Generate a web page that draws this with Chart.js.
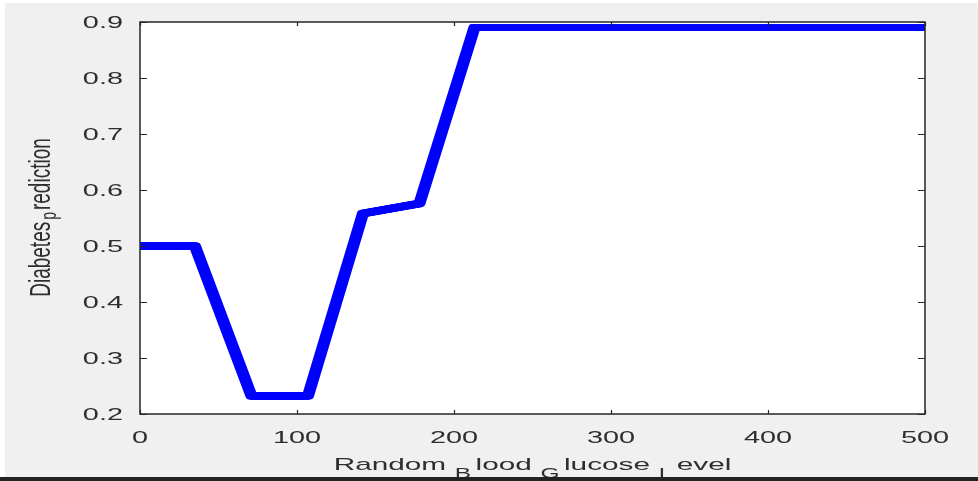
<!DOCTYPE html>
<html>
<head>
<meta charset="utf-8">
<script src="https://cdn.jsdelivr.net/npm/chart.js@4.4.1/dist/chart.umd.min.js"></script>
<style>
  html, body { margin: 0; padding: 0; background: #ffffff; }
  #wrap { width: 978px; height: 481px; }
</style>
</head>
<body>
<div id="wrap"><canvas id="c" width="978" height="481"></canvas></div>
<script>
// Blood glucose level (x) against diabetes prediction (y)
const glucose = [0, 35, 71, 107, 142, 178, 213, 500];
const prediction = [0.5, 0.5, 0.232, 0.232, 0.558, 0.576, 0.89, 0.89];

const xTicks = [0, 100, 200, 300, 400, 500];
const yTicks = [0.2, 0.3, 0.4, 0.5, 0.6, 0.7, 0.8, 0.9];
const xTickLabels = ['0', '100', '200', '300', '400', '500'];
const yTickLabels = ['0.2', '0.3', '0.4', '0.5', '0.6', '0.7', '0.8', '0.9'];

// Axis titles, split into [text, isSubscript] runs
const xTitle = [['Random', false], ['B', true], ['lood', false], ['G', true], ['lucose', false], ['L', true], ['evel', false]];
const yTitle = [['Diabetes', false], ['p', true], ['rediction', false]];

const FONT = '"Liberation Sans", Arial, Helvetica, sans-serif';
const AXIS_COLOR = '#262626';
const TEXT_COLOR = '#2e2e2e';
const STRETCH = 1.75; // wide text rendering

function runsWidth(ctx, runs, mainPx, subPx, gapBefore, gapAfter) {
  let w = 0;
  runs.forEach(([t, sub]) => {
    ctx.font = (sub ? subPx : mainPx) + 'px ' + FONT;
    w += ctx.measureText(t).width;
    if (sub) w += gapBefore + gapAfter;
  });
  return w;
}

function drawRuns(ctx, runs, startX, mainPx, subPx, subDrop, gapBefore, gapAfter) {
  let x = startX;
  ctx.textAlign = 'left';
  ctx.textBaseline = 'alphabetic';
  runs.forEach(([t, sub]) => {
    ctx.font = (sub ? subPx : mainPx) + 'px ' + FONT;
    if (sub) x += gapBefore;
    ctx.fillText(t, x, sub ? subDrop : 0);
    x += ctx.measureText(t).width;
    if (sub) x += gapAfter;
  });
}

const framePlugin = {
  id: 'frame',
  beforeDraw(chart) {
    const ctx = chart.ctx;
    const a = chart.chartArea;
    ctx.save();
    ctx.fillStyle = '#ffffff';
    ctx.fillRect(0, 0, chart.width, chart.height);
    ctx.fillStyle = '#f0f0f0';
    ctx.fillRect(5, 3, chart.width - 5, chart.height - 3);
    ctx.fillStyle = '#ffffff';
    ctx.fillRect(a.left, a.top, a.right - a.left, a.bottom - a.top);
    ctx.restore();
  },
  afterDatasetsDraw(chart) {
    // widen the line horizontally by re-stroking the library's line element
    const ctx = chart.ctx;
    const a = chart.chartArea;
    const meta = chart.getDatasetMeta(0);
    ctx.save();
    ctx.beginPath();
    ctx.rect(a.left, a.top, a.right - a.left, a.bottom - a.top);
    ctx.clip();
    [-2.5, -1.5, -0.75, 0.75, 1.5, 2.5].forEach(dx => {
      ctx.save();
      ctx.translate(dx, 0);
      meta.dataset.draw(ctx, a);
      ctx.restore();
    });
    ctx.restore();
  },
  afterDraw(chart) {
    const ctx = chart.ctx;
    const a = chart.chartArea;
    const xs = chart.scales.x, ys = chart.scales.y;
    ctx.save();

    // box and inward ticks on all four sides
    ctx.strokeStyle = AXIS_COLOR;
    ctx.lineWidth = 1.5;
    ctx.strokeRect(a.left, a.top, a.right - a.left, a.bottom - a.top);
    ctx.lineWidth = 1.2;
    ctx.beginPath();
    xTicks.forEach(v => {
      const px = Math.round(xs.getPixelForValue(v)) + 0.5;
      ctx.moveTo(px, a.bottom); ctx.lineTo(px, a.bottom - 4);
      ctx.moveTo(px, a.top); ctx.lineTo(px, a.top + 4);
    });
    yTicks.forEach(v => {
      const py = Math.round(ys.getPixelForValue(v)) + 0.5;
      ctx.moveTo(a.left, py); ctx.lineTo(a.left + 7, py);
      ctx.moveTo(a.right, py); ctx.lineTo(a.right - 7, py);
    });
    ctx.stroke();

    // tick labels
    ctx.fillStyle = TEXT_COLOR;
    ctx.font = '16.5px ' + FONT;
    ctx.textBaseline = 'alphabetic';
    xTicks.forEach((v, i) => {
      ctx.save();
      ctx.translate(xs.getPixelForValue(v), 443);
      ctx.scale(STRETCH, 1);
      ctx.textAlign = 'center';
      ctx.fillText(xTickLabels[i], 0, 0);
      ctx.restore();
    });
    ctx.textBaseline = 'middle';
    yTicks.forEach((v, i) => {
      ctx.save();
      ctx.translate(123, ys.getPixelForValue(v) + 1.5);
      ctx.scale(STRETCH, 1);
      ctx.textAlign = 'right';
      ctx.fillText(yTickLabels[i], 0, 0);
      ctx.restore();
    });

    // x title
    const xw = runsWidth(ctx, xTitle, 17, 14, 5, 2.5);
    ctx.save();
    ctx.translate((a.left + a.right) / 2, 470);
    ctx.scale(STRETCH, 1);
    drawRuns(ctx, xTitle, -xw / 2, 17, 14, 8, 5, 2.5);
    ctx.restore();

    // y title, rotated
    const yw = runsWidth(ctx, yTitle, 19, 14, 2, 2);
    ctx.save();
    ctx.translate(50, 217.5);
    ctx.rotate(-Math.PI / 2);
    ctx.scale(1, 1.6);
    drawRuns(ctx, yTitle, -yw / 2, 19, 14, 4, 2, 2);
    ctx.restore();

    // dark strip along the bottom edge
    ctx.fillStyle = '#222222';
    ctx.fillRect(0, 477, chart.width, 4);
    ctx.restore();
  }
};

new Chart(document.getElementById('c'), {
  type: 'line',
  data: {
    datasets: [{
      data: glucose.map((g, i) => ({ x: g, y: prediction[i] })),
      borderColor: '#0000ff',
      borderWidth: 7,
      borderJoinStyle: 'round',
      borderCapStyle: 'butt',
      pointRadius: 0,
      tension: 0,
      fill: false
    }]
  },
  options: {
    responsive: false,
    animation: false,
    events: [],
    layout: { padding: { left: 140, right: 53, top: 22, bottom: 67 } },
    plugins: { legend: { display: false }, tooltip: { enabled: false } },
    scales: {
      x: { type: 'linear', min: 0, max: 500, display: false },
      y: { type: 'linear', min: 0.2, max: 0.9, display: false }
    }
  },
  plugins: [framePlugin]
});
</script>
</body>
</html>
